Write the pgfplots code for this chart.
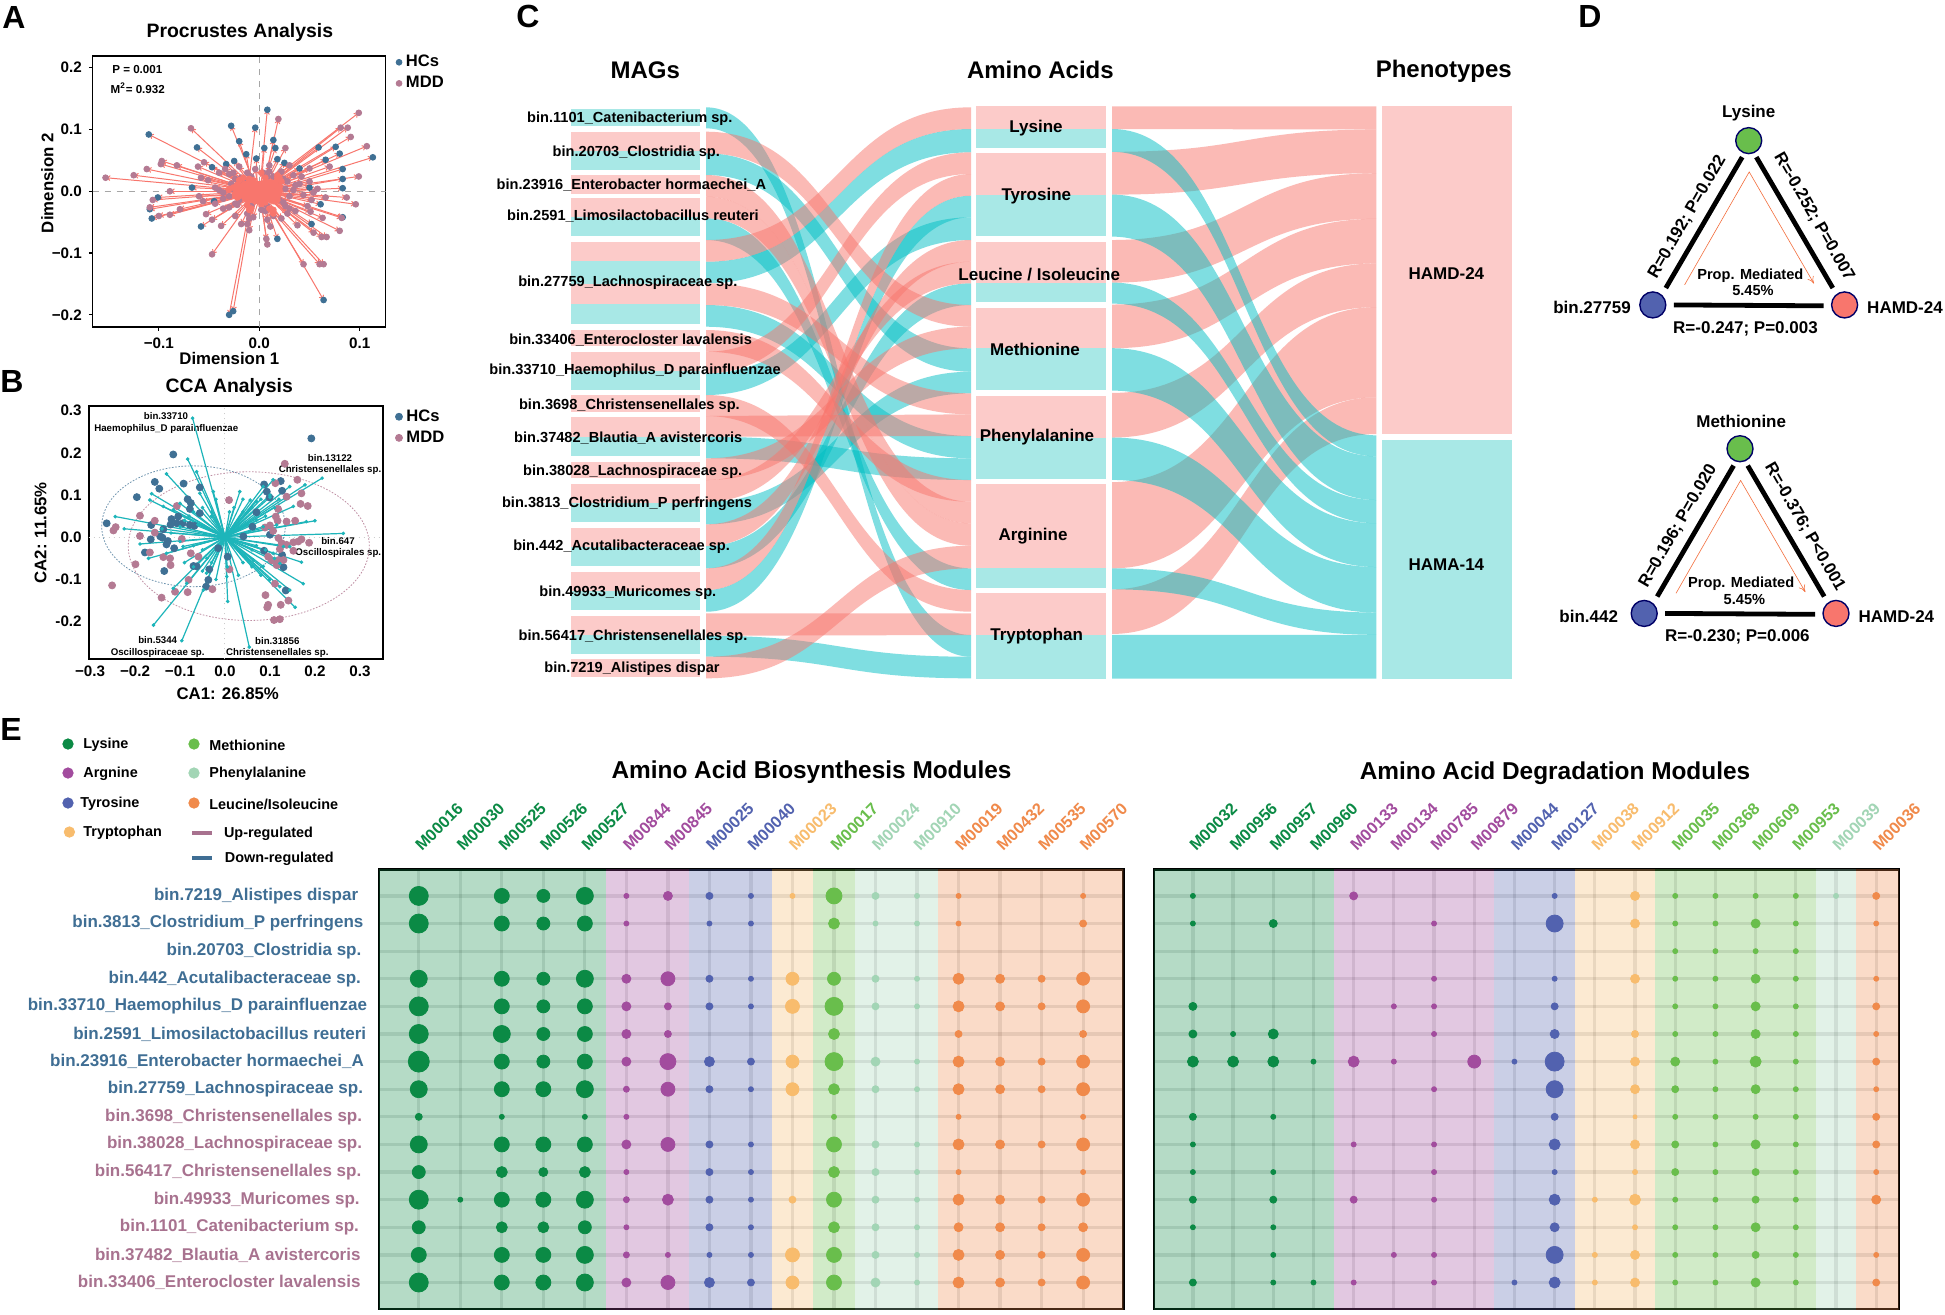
\documentclass[border=0pt]{standalone}
\usepackage{fontspec}
\setmainfont{Liberation Sans}
\usepackage{pgfplots}
\usepackage{pgfplotstable}
\pgfplotsset{compat=1.18}
\usetikzlibrary{arrows.meta}
\definecolor{rp}{HTML}{F8766D}\definecolor{rt}{HTML}{00BFC4}
\definecolor{np}{HTML}{FCCBC9}\definecolor{nt}{HTML}{A8E8E6}
\definecolor{hc}{HTML}{3F7094}\definecolor{mdd}{HTML}{B47A93}
\definecolor{lys}{HTML}{0B8A45}\definecolor{arg}{HTML}{A24C9E}\definecolor{tyr}{HTML}{5262AF}
\definecolor{trp}{HTML}{F8BC6D}\definecolor{met}{HTML}{69BE4C}\definecolor{phe}{HTML}{A2D5B5}\definecolor{leu}{HTML}{F08A4B}
\definecolor{up}{HTML}{A8728F}\definecolor{dn}{HTML}{3F6E94}\definecolor{vec}{HTML}{1DB5BA}
\tikzset{fs/.style={font=\fontsize{#1}{#1}\selectfont\bfseries,inner sep=0pt,yshift=-.6pt}}
\newcommand\ribA[5]{\fill[#5,fill opacity=.5] (axis cs:706,#1) .. controls (axis cs:838,#1) and (axis cs:838,#3) .. (axis cs:971,#3) -- (axis cs:971,#4) .. controls (axis cs:838,#4) and (axis cs:838,#2) .. (axis cs:706,#2) -- cycle;}
\newcommand\ribB[5]{\fill[#5,fill opacity=.5] (axis cs:1112,#1) .. controls (axis cs:1244,#1) and (axis cs:1244,#3) .. (axis cs:1376.4,#3) -- (axis cs:1376.4,#4) .. controls (axis cs:1244,#4) and (axis cs:1244,#2) .. (axis cs:1112,#2) -- cycle;}
\newcommand\nodeb[5]{\addplot[draw=none,fill=#5,forget plot] coordinates {(#1,#3)(#2,#3)(#2,#4)(#1,#4)};}
\newcommand\yl[3]{\textcolor{#1}{#2}\hspace*{#3pt}}
\pgfplotsset{bub/.style={scatter,only marks,mark=*,scatter/use mapped color={draw=#1,fill=#1},
  visualization depends on={\thisrow{d}/4 \as \bubr},
  scatter/@pre marker code/.append style={/tikz/mark size=\bubr}},
  band/.style={draw=none,fill=#1,fill opacity=.3,forget plot},
  emat/.style={scale only axis,anchor=north west,height=219.7pt,y dir=reverse,
    ymin=-0.952,ymax=14.96,ytick={0,...,14},xticklabel pos=upper,major tick length=0pt,
    grid=major,grid style={black,opacity=.11,line width=1.6pt},
    axis line style={line width=1.2pt},
    xticklabel style={rotate=45,anchor=south west,font=\fontsize{8.2}{8.5}\selectfont\bfseries,xshift=4pt,yshift=1.5pt}}}
% Panel A : arrows, origin (x0,y0) to end (x1,y1); the end point is an HC (tabHC) or an MDD (tabMD) sample
\pgfplotstableread{
x0 y0 x1 y1
-.020 .018 -.110 .092
-.006 .018 -.028 .106
-.010 .020 -.004 .103
.002 .030 .008 .132
-.015 .012 -.062 .071
-.006 .014 -.020 .081
-.008 .012 -.013 .060
.002 .012 .005 .070
.006 .016 .014 .083
.004 .012 .016 .070
-.010 .006 -.033 .044
-.008 .008 -.025 .049
-.012 .006 -.047 .039
-.002 .008 -.003 .053
.004 .008 .018 .052
.006 .008 .025 .046
.012 .014 .059 .071
.016 .012 .076 .072
.016 .012 .080 .061
.020 .008 .113 .055
.018 .004 .083 .036
.020 .002 .083 .020
.018 .000 .083 .005
.010 .008 .040 .037
.014 .010 .066 .051
-.018 .002 -.067 .006
-.022 -.002 -.101 -.010
-.024 -.006 -.109 -.029
-.022 -.008 -.107 -.044
-.014 -.012 -.058 -.057
-.012 -.004 -.045 -.016
.018 -.008 .083 -.042
.014 -.012 .052 -.053
.014 -.004 .061 -.021
.006 -.018 .018 -.077
.014 -.036 .064 -.176
-.010 -.030 -.030 -.200
-.008 -.028 -.026 -.194
.012 .002 .050 .006
}\tabHC
\pgfplotstableread{
x0 y0 x1 y1
-.030 .004 -.153 .022
-.026 .006 -.125 .026
-.024 .006 -.112 .036
-.022 .010 -.097 .049
-.020 .008 -.098 .044
-.018 .008 -.082 .042
-.014 .008 -.061 .040
-.012 .010 -.055 .047
-.016 .022 -.068 .102
.018 .026 .099 .127
.018 .022 .081 .103
.020 .022 .088 .103
.018 .018 .091 .088
.022 .016 .107 .073
.020 .006 .099 .024
.006 .022 .019 .117
.008 .014 .026 .070
.014 .008 .070 .040
.012 .008 .050 .037
-.022 .000 -.089 .000
-.024 -.004 -.106 -.014
-.024 -.006 -.109 -.026
-.022 -.010 -.100 -.040
-.020 -.008 -.089 -.038
-.018 -.006 -.079 -.029
-.012 -.008 -.053 -.037
-.012 -.012 -.047 -.046
-.010 -.014 -.038 -.056
-.006 -.014 -.018 -.053
-.004 -.014 -.012 -.053
-.004 -.016 -.010 -.063
-.012 -.022 -.047 -.102
.002 -.018 .007 -.077
.002 -.020 .008 -.086
.004 -.012 .011 -.057
.010 -.012 .038 -.055
.012 -.014 .054 -.067
.014 -.016 .062 -.074
.016 -.016 .067 -.074
.018 -.014 .080 -.064
.018 -.010 .082 -.043
.014 -.010 .063 -.043
.012 -.008 .051 -.033
.020 -.004 .096 -.021
.018 -.002 .087 -.010
.014 -.002 .066 -.010
.010 -.028 .044 -.118
.012 -.030 .060 -.118
.014 -.030 .064 -.118
-.006 .006 -.030 .028
-.012 .004 -.051 .018
.000 .000 -.028 .012
.002 .002 -.018 .022
-.004 -.002 -.030 -.008
.004 -.004 -.022 -.022
-.006 .004 -.012 .030
.002 .006 .010 .032
.006 .004 .028 .016
.004 -.002 .030 -.008
.006 -.006 .026 -.024
.000 -.006 .006 -.032
-.006 -.008 -.012 -.036
.012 .004 .040 .012
.010 -.002 .044 -.006
-.010 .000 -.040 .002
-.012 -.002 -.036 -.012
-.002 .010 -.016 .020
.002 .010 .014 .024
.010 .010 .034 .026
-.002 -.010 .014 -.040
.000 -.012 -.006 -.042
.008 -.010 .028 -.036
-.008 .002 -.020 .004
.000 .002 .012 .006
.000 -.002 .014 -.010
-.002 .000 -.014 -.004
-.016 .000 -.044 .006
.016 .000 .054 -.002
.008 .000 .034 .002
-.004 .008 -.008 .018
-.014 .006 -.058 .022
-.012 -.004 -.056 -.016
-.014 -.006 -.060 -.008
-.008 .008 -.040 .030
-.010 .010 -.034 .036
-.006 .012 -.020 .040
-.002 .012 -.004 .036
.004 .010 .010 .042
.008 .010 .030 .042
.010 .006 .042 .024
.012 .004 .050 .016
.014 .000 .058 .004
.012 -.004 .052 -.014
.012 -.006 .048 -.024
.010 -.008 .036 -.032
.006 -.010 .022 -.044
.002 -.012 .008 -.046
-.002 -.012 -.010 -.044
-.006 -.010 -.024 -.040
-.010 -.008 -.036 -.028
-.012 -.006 -.044 -.020
0 0 .020 .012
0 0 -.020 .012
0 0 .020 -.014
0 0 -.020 -.014
0 0 .008 .024
0 0 -.008 .024
0 0 .008 -.024
0 0 -.008 -.024
.004 .002 .026 .004
-.004 .002 -.026 .004
.003 -.003 .024 -.018
-.003 -.003 -.024 -.020
.003 .003 .024 .020
-.003 .003 -.024 .020
.004 .000 .036 .010
-.004 .000 -.036 -.002
.000 .004 .004 .030
.000 -.004 .002 -.030
.006 .008 .022 .032
-.006 .008 -.026 .030
.006 -.008 .030 -.028
-.008 -.006 -.030 -.026
}\tabMD
% Panel B : biplot vector ends and samples
\pgfplotstableread{
x y
-.072 .282
.216 .140
.263 .009
-.159 -.208
-.096 -.245
.054 -.260
.200 .039
.174 -.110
.156 -.166
.170 -.059
.006 -.152
-.083 .185
-.130 .150
-.244 .049
-.224 .020
-.163 .103
-.167 .088
-.189 -.016
-.170 -.050
-.063 .155
.033 .108
.056 .088
.085 .120
.107 .136
.144 .120
.178 .124
.152 .073
.115 .029
.181 .037
.144 -.125
.122 -.117
-.115 -.121
-.085 -.109
-.048 -.125
-.041 -.085
-.130 -.038
-.115 .065
-.137 .073
-.056 .104
-.026 .108
.107 -.038
.130 -.022
.122 -.062
.085 -.069
.144 -.022
-.100 .025
-.093 -.022
.004 -.093
.063 -.054
.085 .025
.040 .060
.070 .085
.100 .095
.060 -.030
-.060 .030
-.080 .050
-.040 -.050
-.030 .060
.05 .03
.07 .04
.09 .05
.11 .07
.06 .07
.04 .09
.02 .07
.08 .09
.10 .10
.12 .09
.07 -.02
.09 -.03
.11 -.05
.06 -.07
.08 -.09
.10 -.10
.04 -.06
.03 -.09
-.03 -.06
-.05 -.08
-.07 -.07
-.09 -.06
-.05 -.03
-.07 -.02
-.10 -.01
-.12 .01
-.14 .02
-.09 .04
-.07 .06
-.10 .08
-.05 .07
-.03 .05
-.02 .09
.01 .06
.005 -.07
-.02 -.10
}\tabB
\pgfplotstableread{
x y
.192 .234
-.115 .196
-.156 .131
-.146 .115
-.196 .095
-.092 .127
-.056 .118
-.083 .090
-.076 .081
-.078 .067
-.056 .057
-.119 .043
-.104 .049
-.107 .033
-.121 .030
-.094 .033
-.078 .029
-.068 .027
-.164 .029
-.137 .019
-.263 .033
-.144 .002
-.139 -.001
-.165 -.005
-.127 -.009
-.130 -.017
-.113 -.026
-.178 -.036
-.135 -.080
-.070 -.068
-.063 -.069
-.035 -.076
-.037 -.101
-.042 -.117
.006 -.046
-.015 -.026
.124 .133
.087 .125
.093 .108
.099 .094
.127 .110
.070 .059
.061 .025
.100 .006
.087 -.032
.127 -.042
.130 -.071
.135 -.126
.041 .002
}\tabBh
\pgfplotstableread{
x y
.133 .174
.161 .136
.112 .128
.170 .104
.168 .079
.184 .074
.137 .096
.118 .067
.113 .049
.117 .039
.137 .037
.156 .039
.100 .028
.089 .023
.107 .015
.119 -.002
.126 -.014
.137 -.018
.152 -.012
.163 -.010
.170 -.005
.187 -.013
.122 -.028
.152 -.032
.096 -.046
.104 -.055
.119 -.054
.130 -.054
.115 -.066
.111 -.110
.090 -.137
.141 -.150
.096 -.160
.094 -.166
.124 -.160
.109 -.196
.122 -.194
.009 .088
.010 -.076
-.028 -.123
-.081 -.101
-.083 -.130
-.111 -.129
-.141 -.143
-.251 -.114
-.199 -.064
-.189 .003
-.189 .051
-.243 .024
-.248 .016
-.156 .039
-.156 .011
-.107 .074
-.167 -.036
-.137 -.047
-.122 -.050
-.121 -.066
-.076 -.038
-.096 -.004
-.059 -.046
}\tabBm
\begin{document}
\begin{tikzpicture}
\useasboundingbox (0,0) rectangle (972.5pt,-657pt);
\fill[white] (0,0) rectangle (972.5pt,-657pt);
% ---------- master axis in image pixels: panels C, D, letters, legend of E
\begin{axis}[at={(0,0)},anchor=north west,scale only axis,width=972.5pt,height=657pt,
  xmin=0,xmax=1945,ymin=0,ymax=1314,y dir=reverse,hide axis,clip=false]
% nodes MAGs
\nodeb{570.7}{700.3}{109.3}{126}{nt}
\nodeb{570.7}{700.3}{131.7}{151}{np}\nodeb{570.7}{700.3}{151}{170}{nt}
\nodeb{570.7}{700.3}{175}{194}{np}
\nodeb{570.7}{700.3}{197.7}{216.7}{np}\nodeb{570.7}{700.3}{216.7}{236}{nt}
\nodeb{570.7}{700.3}{241.7}{261}{np}\nodeb{570.7}{700.3}{261}{284.3}{nt}
\nodeb{570.7}{700.3}{284.3}{304}{np}\nodeb{570.7}{700.3}{304}{324}{nt}
\nodeb{570.7}{700.3}{330}{346}{np}
\nodeb{570.7}{700.3}{351.7}{370.7}{np}\nodeb{570.7}{700.3}{370.7}{390}{nt}
\nodeb{570.7}{700.3}{395}{411.7}{np}
\nodeb{570.7}{700.3}{417.3}{436.7}{np}\nodeb{570.7}{700.3}{436.7}{456}{nt}
\nodeb{570.7}{700.3}{461.7}{478.3}{np}
\nodeb{570.7}{700.3}{484}{502.7}{np}\nodeb{570.7}{700.3}{502.7}{522}{nt}
\nodeb{570.7}{700.3}{527.7}{546.7}{np}\nodeb{570.7}{700.3}{546.7}{566}{nt}
\nodeb{570.7}{700.3}{571.7}{591}{np}\nodeb{570.7}{700.3}{591}{610}{nt}
\nodeb{570.7}{700.3}{616}{635}{np}\nodeb{570.7}{700.3}{635}{654}{nt}
\nodeb{570.7}{700.3}{659.3}{676.7}{np}
% nodes amino acids
\nodeb{976.3}{1105.7}{106.3}{129}{np}\nodeb{976.3}{1105.7}{129}{148.2}{nt}
\nodeb{976.3}{1105.7}{153}{194.6}{np}\nodeb{976.3}{1105.7}{194.6}{236.2}{nt}
\nodeb{976.3}{1105.7}{241.5}{282.6}{np}\nodeb{976.3}{1105.7}{282.6}{302.2}{nt}
\nodeb{976.3}{1105.7}{307.6}{348.2}{np}\nodeb{976.3}{1105.7}{348.2}{389.7}{nt}
\nodeb{976.3}{1105.7}{395.5}{437.5}{np}\nodeb{976.3}{1105.7}{437.5}{478.6}{nt}
\nodeb{976.3}{1105.7}{483.5}{568.3}{np}\nodeb{976.3}{1105.7}{568.3}{588.4}{nt}
\nodeb{976.3}{1105.7}{593.3}{634.8}{np}\nodeb{976.3}{1105.7}{634.8}{678.6}{nt}
% nodes phenotypes
\nodeb{1381.8}{1512.2}{106.3}{434}{np}\nodeb{1381.8}{1512.2}{439.7}{678.6}{nt}
% MAG -> amino acid flows
\ribA{107.3}{128.3}{635}{656.7}{rt}
\ribA{153.3}{175}{348.3}{371.7}{rt}
\ribA{218.3}{240}{568.3}{590}{rt}
\ribA{261.7}{283.3}{129}{152.3}{rt}
\ribA{305}{326.7}{436}{458.3}{rt}
\ribA{373.3}{395}{217.3}{240}{rt}
\ribA{436.7}{458.3}{458.3}{480}{rt}
\ribA{501.7}{524.3}{371.7}{393.3}{rt}
\ribA{546}{568.3}{283.3}{305}{rt}
\ribA{590}{611.7}{195.7}{217.3}{rt}
\ribA{635.7}{656.7}{656.7}{678.3}{rt}
\ribA{131.7}{153.3}{305}{326.7}{rp}
\ribA{175}{196.7}{501.7}{523.3}{rp}
\ribA{196.7}{218.3}{523.3}{545.7}{rp}
\ribA{240}{261.7}{107.3}{129}{rp}
\ribA{283.3}{305}{393.3}{414.3}{rp}
\ribA{330}{351.7}{480}{501.7}{rp}
\ribA{351.7}{373.3}{152.3}{174}{rp}
\ribA{395}{416}{590}{611.7}{rp}
\ribA{416}{436.7}{414.3}{436}{rp}
\ribA{458.3}{480}{326.7}{348.3}{rp}
\ribA{480}{501.7}{261.7}{283.3}{rp}
\ribA{524.3}{546}{240}{261.7}{rp}
\ribA{568.3}{590}{174}{195.7}{rp}
\ribA{613.3}{635.7}{613.3}{635}{rp}
\ribA{656.7}{678.3}{545.7}{568.3}{rp}
% amino acid -> phenotype flows
\ribB{106.3}{129}{106.3}{129.5}{rp}
\ribB{151.8}{194.6}{129.5}{173.2}{rp}
\ribB{240}{282.6}{173.2}{218.8}{rp}
\ribB{304.5}{348.2}{218.8}{263.4}{rp}
\ribB{392.9}{437.5}{263.4}{307.1}{rp}
\ribB{482.1}{568.3}{307.1}{397.3}{rp}
\ribB{589.3}{633.9}{397.3}{434}{rp}
\ribB{129}{151.8}{435.3}{456.3}{rt}
\ribB{194.6}{236.6}{456.3}{500}{rt}
\ribB{282.6}{303.6}{500}{523.2}{rt}
\ribB{348.2}{390.6}{523.2}{567}{rt}
\ribB{437.5}{479.9}{567}{612.5}{rt}
\ribB{568.3}{589.3}{612.5}{634.8}{rt}
\ribB{634.8}{678.6}{634.8}{678.6}{rt}
% labels C
\node[fs=12] at (axis cs:645.3,69.2) {MAGs};
\node[fs=12] at (axis cs:1040.4,69.2) {Amino Acids};
\node[fs=12] at (axis cs:1443.8,70.5) {Phenotypes};
\node[fs=7.3] at (axis cs:629.8,117.9) {bin.1101\_Catenibacterium sp.};
\node[fs=7.3] at (axis cs:636.3,151.3) {bin.20703\_Clostridia sp.};
\node[fs=7.3] at (axis cs:631.4,183.9) {bin.23916\_Enterobacter hormaechei\_A};
\node[fs=7.3] at (axis cs:633,215.2) {bin.2591\_Limosilactobacillus reuteri};
\node[fs=7.3] at (axis cs:627.8,281.7) {bin.27759\_Lachnospiraceae sp.};
\node[fs=7.3] at (axis cs:630.6,338.4) {bin.33406\_Enterocloster lavalensis};
\node[fs=7.3] at (axis cs:635.1,369.2) {bin.33710\_Haemophilus\_D parainfluenzae};
\node[fs=7.3] at (axis cs:629.4,404.5) {bin.3698\_Christensenellales sp.};
\node[fs=7.3] at (axis cs:628.2,436.6) {bin.37482\_Blautia\_A avistercoris};
\node[fs=7.3] at (axis cs:632.7,470.5) {bin.38028\_Lachnospiraceae sp.};
\node[fs=7.3] at (axis cs:627,502.2) {bin.3813\_Clostridium\_P perfringens};
\node[fs=7.3] at (axis cs:621.6,545.5) {bin.442\_Acutalibacteraceae sp.};
\node[fs=7.3] at (axis cs:627.8,591.5) {bin.49933\_Muricomes sp.};
\node[fs=7.3] at (axis cs:633,635.7) {bin.56417\_Christensenellales sp.};
\node[fs=7.3] at (axis cs:632,667.9) {bin.7219\_Alistipes dispar};
\node[fs=8.5] at (axis cs:1036,127) {Lysine};
\node[fs=8.5] at (axis cs:1036.3,194.6) {Tyrosine};
\node[fs=8.5] at (axis cs:1039.2,273.7) {Leucine / Isoleucine};
\node[fs=8.5] at (axis cs:1035,348) {Methionine};
\node[fs=8.5] at (axis cs:1037,435.7) {Phenylalanine};
\node[fs=8.5] at (axis cs:1033,534.8) {Arginine};
\node[fs=8.5] at (axis cs:1036.7,635) {Tryptophan};
\node[fs=8.5] at (axis cs:1446.4,272.8) {HAMD-24};
\node[fs=8.5] at (axis cs:1446.4,563.4) {HAMA-14};
% panel letters
\node[fs=16] at (axis cs:14,16) {A};
\node[fs=16] at (axis cs:12,380) {B};
\node[fs=16] at (axis cs:528,15.6) {C};
\node[fs=16] at (axis cs:1590,15.6) {D};
\node[fs=16] at (axis cs:11,728) {E};
% panel D, top triangle
\addplot[line width=2.4pt,black,forget plot] coordinates {(1742.2,157.1)(1665.8,288)};
\addplot[line width=2.4pt,black,forget plot] coordinates {(1756.3,157.1)(1832.8,288)};
\addplot[line width=2.4pt,black,forget plot] coordinates {(1673.8,304.9)(1823.6,305.8)};
\addplot[line width=.3pt,color=leu!80!red,-{To[length=3.5pt,width=3.5pt]},forget plot] coordinates {(1684.6,284.8)(1749.2,171.9)(1813.9,283.5)};
\addplot[only marks,mark=*,mark size=6.5pt,mark options={draw=black!60!blue,line width=.7pt,fill=met},forget plot] coordinates {(1748.7,140.6)};
\addplot[only marks,mark=*,mark size=6.5pt,mark options={draw=black!60!blue,line width=.7pt,fill=tyr},forget plot] coordinates {(1652.8,304.9)};
\addplot[only marks,mark=*,mark size=6.5pt,mark options={draw=black!60!blue,line width=.7pt,fill=rp},forget plot] coordinates {(1844.6,304.9)};
\node[fs=8.5] at (axis cs:1748.7,111.6) {Lysine};
\node[fs=8.5,rotate=60] at (axis cs:1687.3,215.6) {R=0.192; P=0.022};
\node[fs=8.5,rotate=-60] at (axis cs:1813.9,215.6) {R=-0.252; P=0.007};
\node[fs=8.5] at (axis cs:1745.5,327.2) {R=-0.247; P=0.003};
\node[fs=7.3] at (axis cs:1750.3,274.1) {Prop. Mediated};
\node[fs=7.3] at (axis cs:1753,289.3) {5.45\%};
\node[fs=8.5] at (axis cs:1592,306.3) {bin.27759};
\node[fs=8.5] at (axis cs:1905,306.3) {HAMD-24};
% panel D, bottom triangle
\addplot[line width=2.4pt,black,forget plot] coordinates {(1733.6,465.6)(1657.2,596.5)};
\addplot[line width=2.4pt,black,forget plot] coordinates {(1747.7,465.6)(1824.2,596.5)};
\addplot[line width=2.4pt,black,forget plot] coordinates {(1665.2,613.4)(1815,614.3)};
\addplot[line width=.3pt,color=leu!80!red,-{To[length=3.5pt,width=3.5pt]},forget plot] coordinates {(1676,593.3)(1740.6,480.4)(1805.3,592)};
\addplot[only marks,mark=*,mark size=6.5pt,mark options={draw=black!60!blue,line width=.7pt,fill=met},forget plot] coordinates {(1740,448.7)};
\addplot[only marks,mark=*,mark size=6.5pt,mark options={draw=black!60!blue,line width=.7pt,fill=tyr},forget plot] coordinates {(1644.2,613.4)};
\addplot[only marks,mark=*,mark size=6.5pt,mark options={draw=black!60!blue,line width=.7pt,fill=rp},forget plot] coordinates {(1836,613.4)};
\node[fs=8.5] at (axis cs:1741.2,420) {Methionine};
\node[fs=8.5,rotate=60] at (axis cs:1678.1,524.6) {R=0.196; P=0.020};
\node[fs=8.5,rotate=-60] at (axis cs:1804.7,525.9) {R=-0.376; P<0.001};
\node[fs=8.5] at (axis cs:1737.4,635.3) {R=-0.230; P=0.006};
\node[fs=7.3] at (axis cs:1741.2,582.6) {Prop. Mediated};
\node[fs=7.3] at (axis cs:1744.4,597.8) {5.45\%};
\node[fs=8.5] at (axis cs:1588.7,615.6) {bin.442};
\node[fs=8.5] at (axis cs:1896.4,615.6) {HAMD-24};
% legend of E
\addplot[only marks,mark=*,mark size=2.6pt,color=lys,forget plot] coordinates {(68,744)};
\addplot[only marks,mark=*,mark size=2.6pt,color=met,forget plot] coordinates {(194,744)};
\addplot[only marks,mark=*,mark size=2.6pt,color=arg,forget plot] coordinates {(68,773)};
\addplot[only marks,mark=*,mark size=2.6pt,color=phe,forget plot] coordinates {(194,773)};
\addplot[only marks,mark=*,mark size=2.6pt,color=tyr,forget plot] coordinates {(68,803)};
\addplot[only marks,mark=*,mark size=2.6pt,color=leu,forget plot] coordinates {(194,803)};
\addplot[only marks,mark=*,mark size=2.6pt,color=trp,forget plot] coordinates {(69.4,832)};
\addplot[line width=2.2pt,color=up,forget plot] coordinates {(192,833)(212,833)};
\addplot[line width=2.2pt,color=dn,forget plot] coordinates {(192,858)(212,858)};
\node[fs=7.2,anchor=west] at (axis cs:83,744) {Lysine};
\node[fs=7.2,anchor=west] at (axis cs:209,744) {Methionine};
\node[fs=7.2,anchor=west] at (axis cs:83,773) {Argnine};
\node[fs=7.2,anchor=west] at (axis cs:209,773) {Phenylalanine};
\node[fs=7.2,anchor=west] at (axis cs:80,803) {Tyrosine};
\node[fs=7.2,anchor=west] at (axis cs:209,803) {Leucine/Isoleucine};
\node[fs=7.2,anchor=west] at (axis cs:83,832) {Tryptophan};
\node[fs=7.2,anchor=west] at (axis cs:223.7,833) {Up-regulated};
\node[fs=7.2,anchor=west] at (axis cs:224.5,858) {Down-regulated};
\node[fs=12.2] at (axis cs:811.5,771) {Amino Acid Biosynthesis Modules};
\node[fs=12.2] at (axis cs:1555,772) {Amino Acid Degradation Modules};
% texts in panel A and B
\node[fs=5.8] at (axis cs:137.3,68.3) {P = 0.001};
\node[fs=5.8] at (axis cs:137.7,87) {M\textsuperscript{2}= 0.932};
\node[fs=4.85] at (axis cs:166,415.3) {bin.33710};
\node[fs=4.85] at (axis cs:166.3,427.3) {Haemophilus\_D parainfluenzae};
\node[fs=4.85] at (axis cs:330,456.7) {bin.13122};
\node[fs=4.85] at (axis cs:330,468.3) {Christensenellales sp.};
\node[fs=4.85] at (axis cs:338,540) {bin.647};
\node[fs=4.85] at (axis cs:338.3,551.7) {Oscillospirales sp.};
\node[fs=4.85] at (axis cs:157.7,639.3) {bin.5344};
\node[fs=4.85] at (axis cs:157.7,651.7) {Oscillospiraceae sp.};
\node[fs=4.85] at (axis cs:277.3,640) {bin.31856};
\node[fs=4.85] at (axis cs:277.3,651.7) {Christensenellales sp.};
\end{axis}
% ---------- Panel A
\begin{axis}[at={(46.25pt,-28pt)},anchor=north west,scale only axis,width=146.5pt,height=135.5pt,
  xmin=-.166,xmax=.1256,ymin=-.2197,ymax=.219,
  xtick={-.1,0,.1},xticklabels={−0.1,0.0,0.1},ytick={-.2,-.1,0,.1,.2},yticklabels={−0.2,−0.1,0.0,0.1,0.2},
  xtick pos=bottom,ytick pos=left,tick align=outside,major tick length=1.8pt,tick style={black,line width=.6pt},
  ticklabel style={font=\fontsize{7.6}{8}\selectfont\bfseries},
  axis line style={line width=.9pt},
  xlabel={Dimension 1},ylabel={Dimension 2},
  x label style={at={(axis description cs:.467,-.1155)},anchor=center,font=\fontsize{8.4}{9}\selectfont\bfseries},
  y label style={at={(axis description cs:-.154,.531)},anchor=center,font=\fontsize{8.4}{9}\selectfont\bfseries},
  title={Procrustes Analysis},title style={at={(axis description cs:.503,1.042)},anchor=center,font=\fontsize{9.7}{10}\selectfont\bfseries},
  legend style={draw=none,fill=none,at={(axis description cs:1.035,1.02)},anchor=north west,font=\fontsize{8.3}{9}\selectfont\bfseries,inner sep=0pt,row sep=-.7pt},
  legend cell align=left]
\addplot[only marks,mark=*,mark size=1.45pt,color=hc] table[x=x1,y=y1]{\tabHC};
\addlegendentry{HCs}
\addplot[only marks,mark=*,mark size=1.45pt,color=mdd] table[x=x1,y=y1]{\tabMD};
\addlegendentry{MDD}
\addplot[only marks,mark=*,mark size=1.45pt,color=rp,forget plot] table[x=x0,y=y0]{\tabMD};
\addplot[only marks,mark=*,mark size=1.45pt,color=rp,forget plot] table[x=x0,y=y0]{\tabHC};
\addplot[forget plot,black!35,dashed,line width=.5pt] coordinates {(-.166,0)(.1256,0)};
\addplot[forget plot,black!35,dashed,line width=.5pt] coordinates {(0,-.2197)(0,.219)};
\addplot[forget plot,quiver={u=\thisrow{x1}-\thisrow{x0},v=\thisrow{y1}-\thisrow{y0}},color=rp,line width=.5pt,-{To[length=2.4pt,width=2.8pt]}] table[x=x0,y=y0]{\tabHC};
\addplot[forget plot,quiver={u=\thisrow{x1}-\thisrow{x0},v=\thisrow{y1}-\thisrow{y0}},color=rp,line width=.5pt,-{To[length=2.4pt,width=2.8pt]}] table[x=x0,y=y0]{\tabMD};
\end{axis}
% ---------- Panel B
\begin{axis}[at={(44.35pt,-203.15pt)},anchor=north west,scale only axis,width=147.3pt,height=126.5pt,
  xmin=-.303,xmax=.352,ymin=-.289,ymax=.31,
  xtick={-.3,-.2,-.1,0,.1,.2,.3},xticklabels={−0.3,−0.2,−0.1,0.0,0.1,0.2,0.3},
  ytick={-.2,-.1,0,.1,.2,.3},yticklabels={-0.2,-0.1,0.0,0.1,0.2,0.3},
  major tick length=0pt,
  ticklabel style={font=\fontsize{7.6}{8}\selectfont\bfseries},
  axis line style={line width=.9pt},
  xlabel={CA1: 26.85\%},ylabel={CA2: 11.65\%},
  x label style={at={(axis description cs:.472,-.137)},anchor=center,font=\fontsize{8.4}{9}\selectfont\bfseries},
  y label style={at={(axis description cs:-.163,.5)},anchor=center,font=\fontsize{8.4}{9}\selectfont\bfseries},
  title={CCA Analysis},title style={at={(axis description cs:.477,1.026)},anchor=center,font=\fontsize{9.7}{10}\selectfont\bfseries},
  legend style={draw=none,fill=none,at={(axis description cs:1.04,1.005)},anchor=north west,font=\fontsize{8.3}{9}\selectfont\bfseries,inner sep=0pt,row sep=-.7pt},
  legend cell align=left]
\addplot[only marks,mark=*,mark size=1.75pt,color=hc] table[x=x,y=y]{\tabBh};
\addlegendentry{HCs}
\addplot[only marks,mark=*,mark size=1.75pt,color=mdd] table[x=x,y=y]{\tabBm};
\addlegendentry{MDD}
\addplot[forget plot,black!20,dotted,line width=.5pt] coordinates {(-.303,0)(.352,0)};
\addplot[forget plot,black!20,dotted,line width=.5pt] coordinates {(0,-.289)(0,.31)};
\draw[hc!75,dash pattern=on .8pt off .8pt,line width=.4pt] (axis cs:-.07,.026) ellipse [x radius=.204,y radius=.143];
\draw[mdd!85,dash pattern=on .8pt off .8pt,line width=.4pt] (axis cs:.053,-.021) ellipse [x radius=.268,y radius=.176];
\addplot[forget plot,quiver={u=\thisrow{x},v=\thisrow{y}},color=vec,line width=.6pt] table[x expr=0,y expr=0]{\tabB};
\addplot[forget plot,only marks,mark=*,mark size=.7pt,color=vec] table[x=x,y=y]{\tabB};
\end{axis}
% ---------- Panel E left
\begin{axis}[emat,at={(189.4pt,-434.8pt)},width=372.3pt,xmin=-.963,xmax=16.97,xtick={0,...,16},
  xticklabels={\textcolor{lys}{M00016},\textcolor{lys}{M00030},\textcolor{lys}{M00525},\textcolor{lys}{M00526},\textcolor{lys}{M00527},\textcolor{arg}{M00844},\textcolor{arg}{M00845},\textcolor{tyr}{M00025},\textcolor{tyr}{M00040},\textcolor{trp}{M00023},\textcolor{met}{M00017},\textcolor{phe}{M00024},\textcolor{phe}{M00910},\textcolor{leu}{M00019},\textcolor{leu}{M00432},\textcolor{leu}{M00535},\textcolor{leu}{M00570}},
  yticklabels={\yl{dn}{bin.7219\_Alistipes dispar}{4.45},\yl{dn}{bin.3813\_Clostridium\_P perfringens}{1.8},\yl{dn}{bin.20703\_Clostridia sp.}{2.85},\yl{dn}{bin.442\_Acutalibacteraceae sp.}{3.05},\yl{dn}{bin.33710\_Haemophilus\_D parainfluenzae}{0},\yl{dn}{bin.2591\_Limosilactobacillus reuteri}{.4},\yl{dn}{bin.23916\_Enterobacter hormaechei\_A}{1.6},\yl{dn}{bin.27759\_Lachnospiraceae sp.}{2},\yl{up}{bin.3698\_Christensenellales sp.}{2.45},\yl{up}{bin.38028\_Lachnospiraceae sp.}{2.45},\yl{up}{bin.56417\_Christensenellales sp.}{2.85},\yl{up}{bin.49933\_Muricomes sp.}{3.65},\yl{up}{bin.1101\_Catenibacterium sp.}{4.05},\yl{up}{bin.37482\_Blautia\_A avistercoris}{3.25},\yl{up}{bin.33406\_Enterocloster lavalensis}{3.25}},
  yticklabel style={font=\fontsize{8.5}{9}\selectfont\bfseries,anchor=east,xshift=-2.35pt}]
\addplot[band=lys] coordinates {(-1,-1)(4.5,-1)(4.5,15)(-1,15)};
\addplot[band=arg] coordinates {(4.5,-1)(6.5,-1)(6.5,15)(4.5,15)};
\addplot[band=tyr] coordinates {(6.5,-1)(8.5,-1)(8.5,15)(6.5,15)};
\addplot[band=trp] coordinates {(8.5,-1)(9.5,-1)(9.5,15)(8.5,15)};
\addplot[band=met] coordinates {(9.5,-1)(10.5,-1)(10.5,15)(9.5,15)};
\addplot[band=phe] coordinates {(10.5,-1)(12.5,-1)(12.5,15)(10.5,15)};
\addplot[band=leu] coordinates {(12.5,-1)(17,-1)(17,15)(12.5,15)};
\addplot[bub=lys] table[x=c,y=r,row sep=\\]{c r d\\0 0 19\\0 1 19\\0 3 17\\0 4 19\\0 5 19\\0 6 21\\0 7 17\\0 8 7\\0 9 17\\0 10 13\\0 11 19\\0 12 13\\0 13 15\\0 14 19\\1 11 5\\2 0 15\\2 1 15\\2 3 15\\2 4 15\\2 5 17\\2 6 15\\2 7 15\\2 8 5\\2 9 15\\2 10 11\\2 11 15\\2 12 11\\2 13 15\\2 14 15\\3 0 13\\3 1 13\\3 3 13\\3 4 13\\3 5 13\\3 6 13\\3 7 15\\3 9 15\\3 10 9\\3 11 15\\3 12 11\\3 13 15\\3 14 15\\4 0 17\\4 1 15\\4 3 17\\4 4 15\\4 5 15\\4 6 15\\4 7 17\\4 8 5\\4 9 15\\4 10 11\\4 11 17\\4 12 13\\4 13 17\\4 14 17\\};
\addplot[bub=arg] table[x=c,y=r,row sep=\\]{c r d\\5 0 5\\5 1 5\\5 3 9\\5 4 9\\5 5 9\\5 6 9\\5 7 6\\5 8 5\\5 9 9\\5 10 5\\5 11 6\\5 12 5\\5 13 6\\5 14 9\\6 0 9\\6 3 14\\6 4 7\\6 5 7\\6 6 16\\6 7 14\\6 9 14\\6 11 11\\6 13 5\\6 14 14\\};
\addplot[bub=tyr] table[x=c,y=r,row sep=\\]{c r d\\7 0 7\\7 1 5\\7 3 7\\7 4 7\\7 6 10\\7 7 7\\7 9 7\\7 10 7\\7 11 7\\7 12 7\\7 13 5\\7 14 10\\8 0 5\\8 1 5\\8 3 5\\8 4 5\\8 6 7\\8 7 5\\8 9 5\\8 10 5\\8 11 5\\8 12 5\\8 13 5\\8 14 7\\};
\addplot[bub=trp] table[x=c,y=r,row sep=\\]{c r d\\9 0 5\\9 3 13\\9 4 14\\9 6 13\\9 7 13\\9 11 7\\9 13 14\\9 14 13\\};
\addplot[bub=met] table[x=c,y=r,row sep=\\]{c r d\\10 0 16\\10 1 11\\10 3 13\\10 4 18\\10 5 11\\10 6 18\\10 7 11\\10 8 5\\10 9 15\\10 10 11\\10 11 15\\10 12 11\\10 13 15\\10 14 15\\};
\addplot[bub=phe] table[x=c,y=r,row sep=\\]{c r d\\11 0 7\\11 1 5\\11 3 7\\11 4 7\\11 6 9\\11 7 7\\11 9 7\\11 10 7\\11 11 7\\11 12 7\\11 13 7\\11 14 9\\12 0 5\\12 1 5\\12 3 5\\12 4 5\\12 6 5\\12 7 5\\12 9 5\\12 10 5\\12 11 5\\12 12 5\\12 13 5\\12 14 5\\};
\addplot[bub=leu] table[x=c,y=r,row sep=\\]{c r d\\13 0 5\\13 1 5\\13 3 11\\13 4 11\\13 5 7\\13 6 11\\13 7 11\\13 8 5\\13 9 11\\13 10 5\\13 11 11\\13 12 9\\13 13 11\\13 14 11\\14 3 9\\14 4 9\\14 6 9\\14 7 9\\14 9 9\\14 11 9\\14 12 9\\14 13 9\\14 14 9\\15 3 7\\15 4 7\\15 6 7\\15 7 7\\15 9 7\\15 11 7\\15 12 7\\15 13 7\\15 14 7\\16 0 5\\16 1 7\\16 3 13\\16 4 13\\16 5 7\\16 6 13\\16 7 13\\16 8 5\\16 9 13\\16 10 5\\16 11 13\\16 12 9\\16 13 13\\16 14 13\\};
\end{axis}
% ---------- Panel E right
\begin{axis}[emat,at={(576.95pt,-434.8pt)},width=372.4pt,xmin=-.97,xmax=17.56,xtick={0,...,17},yticklabels={},
  xticklabels={\textcolor{lys}{M00032},\textcolor{lys}{M00956},\textcolor{lys}{M00957},\textcolor{lys}{M00960},\textcolor{arg}{M00133},\textcolor{arg}{M00134},\textcolor{arg}{M00785},\textcolor{arg}{M00879},\textcolor{tyr}{M00044},\textcolor{tyr}{M00127},\textcolor{trp}{M00038},\textcolor{trp}{M00912},\textcolor{met}{M00035},\textcolor{met}{M00368},\textcolor{met}{M00609},\textcolor{met}{M00953},\textcolor{phe}{M00039},\textcolor{leu}{M00036}}]
\addplot[band=lys] coordinates {(-1,-1)(3.5,-1)(3.5,15)(-1,15)};
\addplot[band=arg] coordinates {(3.5,-1)(7.5,-1)(7.5,15)(3.5,15)};
\addplot[band=tyr] coordinates {(7.5,-1)(9.5,-1)(9.5,15)(7.5,15)};
\addplot[band=trp] coordinates {(9.5,-1)(11.5,-1)(11.5,15)(9.5,15)};
\addplot[band=met] coordinates {(11.5,-1)(15.5,-1)(15.5,15)(11.5,15)};
\addplot[band=phe] coordinates {(15.5,-1)(16.5,-1)(16.5,15)(15.5,15)};
\addplot[band=leu] coordinates {(16.5,-1)(18,-1)(18,15)(16.5,15)};
\addplot[bub=lys] table[x=c,y=r,row sep=\\]{c r d\\0 0 5\\0 1 5\\0 4 8\\0 5 8\\0 6 11\\0 8 7\\0 9 5\\0 10 5\\0 11 7\\0 12 5\\0 14 7\\1 5 5\\1 6 11\\2 1 8\\2 5 10\\2 6 11\\2 8 5\\2 10 5\\2 11 7\\2 12 5\\2 13 5\\2 14 5\\3 6 5\\3 14 5\\};
\addplot[bub=arg] table[x=c,y=r,row sep=\\]{c r d\\4 0 8\\4 6 11\\4 9 5\\4 11 7\\4 14 5\\5 4 5\\5 6 5\\5 13 5\\6 1 5\\6 3 5\\6 4 5\\6 5 5\\6 7 5\\6 9 5\\6 10 5\\6 11 5\\6 13 5\\6 14 5\\7 6 13\\};
\addplot[bub=tyr] table[x=c,y=r,row sep=\\]{c r d\\8 6 5\\8 14 5\\9 0 5\\9 1 17\\9 3 5\\9 4 7\\9 5 9\\9 6 19\\9 7 17\\9 8 7\\9 9 11\\9 10 5\\9 11 11\\9 12 9\\9 13 17\\9 14 11\\};
\addplot[bub=trp] table[x=c,y=r,row sep=\\]{c r d\\10 11 5\\10 13 5\\10 14 5\\11 0 9\\11 1 9\\11 3 9\\11 5 7\\11 6 9\\11 7 9\\11 8 4\\11 9 9\\11 10 5\\11 11 11\\11 12 5\\11 13 9\\11 14 9\\};
\addplot[bub=met] table[x=c,y=r,row sep=\\]{c r d\\12 0 5\\12 1 5\\12 2 5\\12 3 5\\12 4 5\\12 5 5\\12 6 9\\12 7 7\\12 8 5\\12 9 7\\12 10 7\\12 11 5\\12 12 5\\12 13 5\\12 14 5\\13 0 5\\13 1 5\\13 2 5\\13 3 5\\13 4 5\\13 5 5\\13 6 5\\13 7 5\\13 8 5\\13 9 5\\13 10 5\\13 11 5\\13 12 5\\13 13 5\\13 14 5\\14 0 5\\14 1 9\\14 2 5\\14 3 9\\14 4 9\\14 5 9\\14 6 11\\14 7 9\\14 8 5\\14 9 9\\14 10 7\\14 11 7\\14 12 9\\14 13 7\\14 14 9\\15 0 5\\15 1 5\\15 2 5\\15 3 5\\15 4 5\\15 5 5\\15 6 5\\15 7 5\\15 8 5\\15 9 5\\15 10 5\\15 11 5\\15 12 5\\15 13 5\\15 14 5\\};
\addplot[bub=phe] table[x=c,y=r,row sep=\\]{c r d\\16 0 5\\};
\addplot[bub=leu] table[x=c,y=r,row sep=\\]{c r d\\17 0 7\\17 1 5\\17 3 5\\17 4 7\\17 5 5\\17 6 7\\17 7 5\\17 8 7\\17 9 7\\17 10 5\\17 11 9\\17 13 5\\17 14 7\\};
\end{axis}
\end{tikzpicture}
\end{document}
